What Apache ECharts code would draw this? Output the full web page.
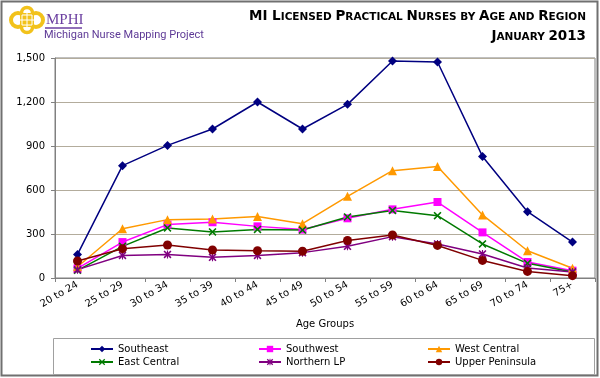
<!DOCTYPE html>
<html><head><meta charset="utf-8">
<script src="https://cdn.jsdelivr.net/npm/echarts@6/dist/echarts.min.js"></script>
<style>html,body{margin:0;padding:0;background:#fff}#c{width:600px;height:378px}</style>
</head><body><div id="c"></div>
<script>
const categories = ['20 to 24','25 to 29','30 to 34','35 to 39','40 to 44','45 to 49','50 to 54','55 to 59','60 to 64','65 to 69','70 to 74','75+'];
const southeast = [161, 766, 904, 1016, 1200, 1016, 1184, 1480, 1473, 829, 452, 245];
const southwest = [65, 245, 364, 380, 352, 330, 407, 468, 518, 311, 109, 50];
const westCentral = [77, 336, 398, 402, 420, 370, 557, 732, 761, 430, 186, 66];
const eastCentral = [52, 216, 341, 314, 331, 327, 416, 461, 425, 232, 100, 41];
const northernLP = [57, 154, 161, 141, 154, 173, 216, 282, 232, 164, 68, 41];
const upperPeninsula = [116, 200, 225, 191, 186, 182, 256, 293, 222, 120, 45, 16];
const yTicks = [0, 300, 600, 900, 1200, 1500];

const FONT = 'DejaVu Sans';
const xPath = 'path://M0,1.4L1.4,0L5,3.6L8.6,0L10,1.4L6.4,5L10,8.6L8.6,10L5,6.4L1.4,10L0,8.6L3.6,5Z';
const starPath = 'path://M0,1.4L1.4,0L5,3.6L8.6,0L10,1.4L6.4,5L10,8.6L8.6,10L5,6.4L1.4,10L0,8.6L3.6,5Z M4.3,0L5.7,0L5.7,10L4.3,10Z';

function mk(name, data, color, symbol, size) {
  return {
    name, type: 'line', data, symbol, symbolSize: size,
    lineStyle: { color, width: 1.5 },
    itemStyle: { color },
    emphasis: { disabled: true },
    animation: false
  };
}

const GOLD = '#F2C21B';
const chart = echarts.init(document.getElementById('c'), null, { renderer: 'canvas' });
const legendBase = {
  orient: 'vertical', top: 339, itemWidth: 22, itemHeight: 8, itemGap: 3,
  textStyle: { fontFamily: FONT, fontSize: 10, color: '#000' }, selectedMode: false
};
const richTitle = {
  b: { fontFamily: FONT, fontWeight: 'bold', fontSize: 13.5, fill: '#000', verticalAlign: 'bottom' },
  s: { fontFamily: FONT, fontWeight: 'bold', fontSize: 10.5, fill: '#000', verticalAlign: 'bottom' }
};
chart.setOption({
  animation: false,
  backgroundColor: '#fff',
  grid: { left: 55, right: 5, top: 58, bottom: 100, show: true, borderColor: '#808080', borderWidth: 1, backgroundColor: '#fff' },
  xAxis: {
    type: 'category', data: categories, boundaryGap: true,
    name: 'Age Groups', nameLocation: 'middle', nameGap: 41,
    nameTextStyle: { fontFamily: FONT, fontSize: 10, color: '#000' },
    axisLine: { lineStyle: { color: '#808080', width: 1 } },
    axisTick: { show: true, length: 4, lineStyle: { color: '#808080' } },
    axisLabel: { rotate: 30, fontFamily: FONT, fontSize: 10, color: '#000', margin: 6, interval: 0 }
  },
  yAxis: {
    type: 'value', min: yTicks[0], max: yTicks[yTicks.length - 1], interval: 300,
    axisLine: { show: true, lineStyle: { color: '#808080' } },
    axisTick: { show: true, length: 4, lineStyle: { color: '#808080' } },
    axisLabel: { fontFamily: FONT, fontSize: 10, color: '#000', margin: 10 },
    splitLine: { lineStyle: { color: '#B3AC9C', width: 1 } }
  },
  legend: [
    Object.assign({}, legendBase, { left: 85, data: ['Southeast', 'East Central'] }),
    Object.assign({}, legendBase, { left: 253, data: ['Southwest', 'Northern LP'] }),
    Object.assign({}, legendBase, { left: 422, data: ['West Central', 'Upper Peninsula'] })
  ],
  series: [
    mk('Southeast', southeast, '#000080', 'diamond', 9),
    mk('Southwest', southwest, '#FF00FF', 'rect', 8),
    mk('West Central', westCentral, '#FF9900', 'triangle', 9),
    mk('East Central', eastCentral, '#007A00', xPath, 8),
    mk('Northern LP', northernLP, '#800080', starPath, 8),
    mk('Upper Peninsula', upperPeninsula, '#800000', 'circle', 9)
  ],
  graphic: [
    { type: 'rect', silent: true, z: -1, shape: { x: 1.5, y: 1.5, width: 596, height: 374 }, style: { fill: 'none', stroke: '#707070', lineWidth: 2 } },
    { type: 'rect', silent: true, shape: { x: 53.5, y: 338.5, width: 541, height: 36 }, style: { fill: 'none', stroke: '#A0A0A0', lineWidth: 1 } },
    // logo knot
    { type: 'circle', silent: true, shape: { cx: 18, cy: 20, r: 7 }, style: { fill: 'none', stroke: GOLD, lineWidth: 4 } },
    { type: 'circle', silent: true, shape: { cx: 36, cy: 20, r: 7 }, style: { fill: 'none', stroke: GOLD, lineWidth: 4 } },
    { type: 'circle', silent: true, shape: { cx: 27, cy: 13, r: 5.5 }, style: { fill: 'none', stroke: GOLD, lineWidth: 3.5 } },
    { type: 'circle', silent: true, shape: { cx: 27, cy: 27, r: 5.5 }, style: { fill: 'none', stroke: GOLD, lineWidth: 3.5 } },
    { type: 'rect', silent: true, shape: { x: 20, y: 13, width: 14, height: 14 }, style: { fill: GOLD } },
    { type: 'polyline', silent: true, shape: { points: [[22, 15], [32, 15], [32, 25], [22, 25], [22, 15]] }, style: { fill: 'none', stroke: '#fff', lineWidth: 1 } },
    { type: 'line', silent: true, shape: { x1: 27, y1: 12, x2: 27, y2: 28 }, style: { stroke: '#fff', lineWidth: 1 } },
    { type: 'line', silent: true, shape: { x1: 19, y1: 20, x2: 35, y2: 20 }, style: { stroke: '#fff', lineWidth: 1 } },
    { type: 'text', silent: true, style: { text: 'MPHI', x: 46, y: 13, fill: '#6B3FA0', font: '15px "Liberation Serif"' } },
    { type: 'line', silent: true, shape: { x1: 45, y1: 28, x2: 82, y2: 28 }, style: { stroke: '#6B3FA0', lineWidth: 1.5 } },
    { type: 'text', silent: true, style: { text: 'Michigan Nurse Mapping Project', x: 44, y: 30, fill: '#5E3A96', font: '11px Roboto' } },
    // title (small caps)
    { type: 'text', silent: true, style: {
      text: '{b|MI L}{s|ICENSED }{b|P}{s|RACTICAL }{b|N}{s|URSES BY }{b|A}{s|GE AND }{b|R}{s|EGION}',
      x: 586, y: 23, align: 'right', verticalAlign: 'bottom', rich: richTitle } },
    { type: 'text', silent: true, style: {
      text: '{b|J}{s|ANUARY }{b|2013}',
      x: 586, y: 43, align: 'right', verticalAlign: 'bottom', rich: richTitle } }
  ]
});
</script></body></html>
